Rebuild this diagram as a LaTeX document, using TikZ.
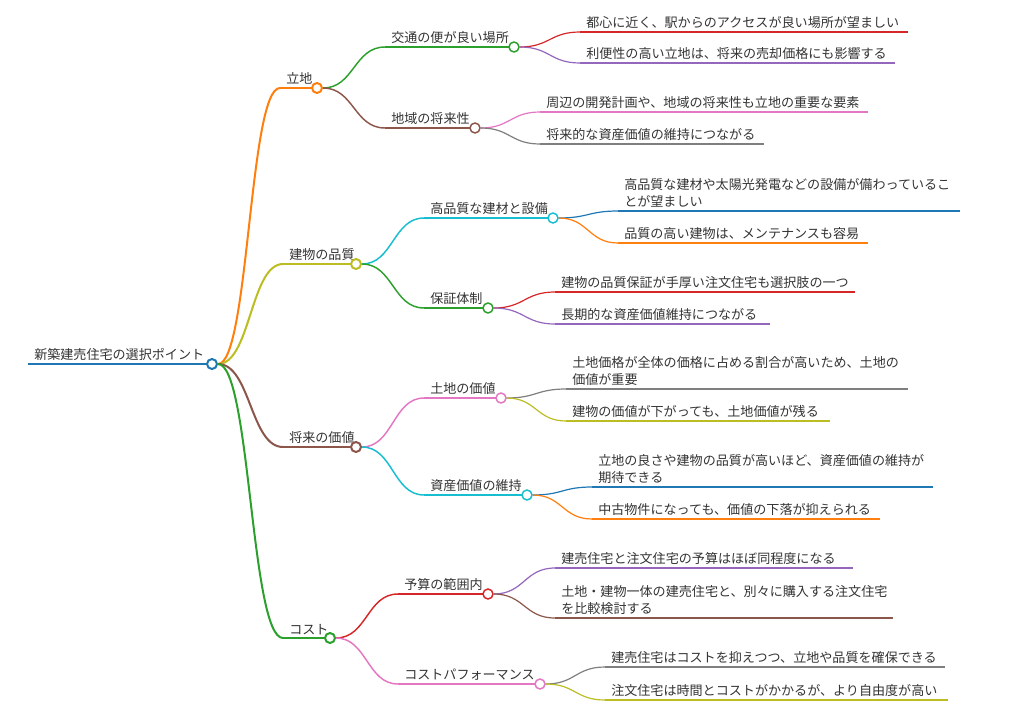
\documentclass[tikz,border=0pt]{standalone}
\usepackage{fontspec}
\usetikzlibrary{calc}
\setmainfont{Noto Sans CJK JP}
\definecolor{cB}{HTML}{1F77B4}\definecolor{cO}{HTML}{FF7F0E}\definecolor{cG}{HTML}{2CA02C}
\definecolor{cR}{HTML}{D62728}\definecolor{cP}{HTML}{9467BD}\definecolor{cBr}{HTML}{8C564B}
\definecolor{cPk}{HTML}{E377C2}\definecolor{cGy}{HTML}{7F7F7F}\definecolor{cOl}{HTML}{BCBD22}
\definecolor{cC}{HTML}{17BECF}
\tikzset{lbl/.style={anchor=south west,inner sep=1.5pt,xshift=3pt,yshift=1pt,font=\fontsize{9.8}{12.5}\selectfont,text=black!80,align=left},
 dot/.style={circle,line width=1.1pt,inner sep=0pt,minimum size=7.5pt},
 l1/.style={line width=1.5pt}, l2/.style={line width=1.1pt}, l3/.style={line width=0.9pt}}
% name, startx, endx, y, style, text
\newcommand\mmnode[6]{\coordinate (#1s) at (#2,#4);\coordinate (#1e) at (#3,#4);
 \draw[#5] (#1s)--(#1e);\node[lbl] (#1) at (#1s) {#6};
 \node[dot,draw,#5,fill=white] (#1c) at (#1e) {};}
\newcommand\mmleaf[6]{\coordinate (#1s) at (#2,#4);\coordinate (#1e) at (#3,#4);
 \draw[#5] (#1s)--(#1e);\node[lbl] (#1) at (#1s) {#6};}
% parent, child, style
\newcommand\mmedge[3]{\draw[#3] let \p1=(#1c.east), \p2=(#2s) in (\p1) .. controls ({(\x1+\x2)/2},\y1) and ({(\x1+\x2)/2},\y2) .. (\p2);}
\begin{document}
\begin{tikzpicture}[x=0.75pt,y=-0.75pt]
\useasboundingbox (0,0) rectangle (1010,714);
\mmnode{r}{28}{212}{364}{cB,l1}{新築建売住宅の選択ポイント}
% level 1
\mmnode{a}{280}{317}{88}{cO,l1}{立地}
\mmnode{b}{283}{356}{264}{cOl,l1}{建物の品質}
\mmnode{c}{283}{356}{447}{cBr,l1}{将来の価値}
\mmnode{d}{283}{330}{638}{cG,l1}{コスト}
\mmedge{r}{a}{cO,l1}\mmedge{r}{b}{cOl,l1}\mmedge{r}{c}{cBr,l1}\mmedge{r}{d}{cG,l1}
% level 2
\mmnode{a1}{385}{514}{47}{cG,l2}{交通の便が良い場所}
\mmnode{a2}{385}{475}{128}{cBr,l2}{地域の将来性}
\mmnode{b1}{424}{553}{218}{cC,l2}{高品質な建材と設備}
\mmnode{b2}{424}{488}{308}{cG,l2}{保証体制}
\mmnode{c1}{424}{501}{398}{cPk,l2}{土地の価値}
\mmnode{c2}{424}{527}{495}{cC,l2}{資産価値の維持}
\mmnode{d1}{398}{488}{594}{cR,l2}{予算の範囲内}
\mmnode{d2}{398}{540}{684}{cPk,l2}{コストパフォーマンス}
\mmedge{a}{a1}{cG,l2}\mmedge{a}{a2}{cBr,l2}
\mmedge{b}{b1}{cC,l2}\mmedge{b}{b2}{cG,l2}
\mmedge{c}{c1}{cPk,l2}\mmedge{c}{c2}{cC,l2}
\mmedge{d}{d1}{cR,l2}\mmedge{d}{d2}{cPk,l2}
% level 3
\mmleaf{a11}{580}{908}{32}{cR,l3}{都心に近く、駅からのアクセスが良い場所が望ましい}
\mmleaf{a12}{580}{895}{63}{cP,l3}{利便性の高い立地は、将来の売却価格にも影響する}
\mmleaf{a21}{540}{868}{112}{cPk,l3}{周辺の開発計画や、地域の将来性も立地の重要な要素}
\mmleaf{a22}{540}{764}{144}{cGy,l3}{将来的な資産価値の維持につながる}
\mmleaf{b11}{618}{960}{211}{cB,l3}{高品質な建材や太陽光発電などの設備が備わっているこ\\とが望ましい}
\mmleaf{b12}{618}{868}{243}{cO,l3}{品質の高い建物は、メンテナンスも容易}
\mmleaf{b21}{555}{855}{292}{cR,l3}{建物の品質保証が手厚い注文住宅も選択肢の一つ}
\mmleaf{b22}{555}{770}{324}{cP,l3}{長期的な資産価値維持につながる}
\mmleaf{c11}{566}{908}{389}{cGy,l3}{土地価格が全体の価格に占める割合が高いため、土地の\\価値が重要}
\mmleaf{c12}{566}{830}{421}{cOl,l3}{建物の価値が下がっても、土地価値が残る}
\mmleaf{c21}{592}{933}{487}{cB,l3}{立地の良さや建物の品質が高いほど、資産価値の維持が\\期待できる}
\mmleaf{c22}{592}{880}{519}{cO,l3}{中古物件になっても、価値の下落が抑えられる}
\mmleaf{d11}{555}{853}{568}{cP,l3}{建売住宅と注文住宅の予算はほぼ同程度になる}
\mmleaf{d12}{555}{893}{618}{cBr,l3}{土地・建物一体の建売住宅と、別々に購入する注文住宅\\を比較検討する}
\mmleaf{d21}{605}{945}{667}{cGy,l3}{建売住宅はコストを抑えつつ、立地や品質を確保できる}
\mmleaf{d22}{605}{948}{700}{cOl,l3}{注文住宅は時間とコストがかかるが、より自由度が高い}
\mmedge{a1}{a11}{cR,l3}\mmedge{a1}{a12}{cP,l3}
\mmedge{a2}{a21}{cPk,l3}\mmedge{a2}{a22}{cGy,l3}
\mmedge{b1}{b11}{cB,l3}\mmedge{b1}{b12}{cO,l3}
\mmedge{b2}{b21}{cR,l3}\mmedge{b2}{b22}{cP,l3}
\mmedge{c1}{c11}{cGy,l3}\mmedge{c1}{c12}{cOl,l3}
\mmedge{c2}{c21}{cB,l3}\mmedge{c2}{c22}{cO,l3}
\mmedge{d1}{d11}{cP,l3}\mmedge{d1}{d12}{cBr,l3}
\mmedge{d2}{d21}{cGy,l3}\mmedge{d2}{d22}{cOl,l3}
\end{tikzpicture}
\end{document}
